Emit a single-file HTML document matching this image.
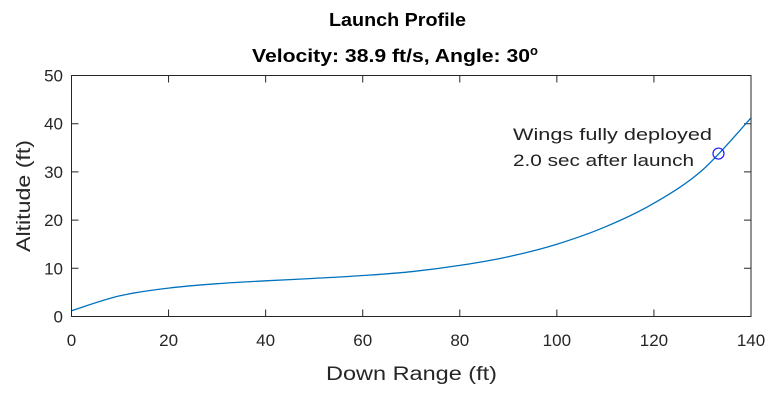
<!DOCTYPE html>
<html><head><meta charset="utf-8"><style>
body{margin:0;background:#fff;}
svg text{font-family:"Liberation Sans",Arial,sans-serif;}
</style></head><body>
<svg width="775" height="400">
<rect width="775" height="400" fill="#fff"/>
<text x="329" y="26" textLength="137" lengthAdjust="spacingAndGlyphs" font-size="18" font-weight="bold" fill="#000">Launch Profile</text>
<text x="252" y="62" font-size="18" font-weight="bold" fill="#000"><tspan textLength="278" lengthAdjust="spacingAndGlyphs">Velocity: 38.9 ft/s, Angle: 30</tspan><tspan dy="-7" font-size="13">o</tspan></text>
<g id="ticks"></g>
<path id="curve" fill="none" stroke="#0072BD" stroke-width="1.3"/>
<circle id="marker" r="5.5" fill="none" stroke="#1f1fff" stroke-width="1.2"/>
<text x="513" y="140" textLength="199" lengthAdjust="spacingAndGlyphs" font-size="17" fill="#222">Wings fully deployed</text>
<text x="513" y="166" textLength="181" lengthAdjust="spacingAndGlyphs" font-size="17" fill="#222">2.0 sec after launch</text>
<rect x="71.5" y="75.5" width="679.5" height="241" fill="none" stroke="#262626" stroke-width="1"/>
<text x="326" y="380" textLength="171" lengthAdjust="spacingAndGlyphs" font-size="19" fill="#262626">Down Range (ft)</text>
<text transform="translate(30,252) rotate(-90)" textLength="112" lengthAdjust="spacingAndGlyphs" font-size="19" fill="#262626">Altitude (ft)</text>
</svg>
<script>
const xs=[0,10,20,30,40,50,60,70,80,90,100,110,120,130,140];
const ys=[1.2,4.3,5.9,6.8,7.4,7.9,8.5,9.3,10.6,12.4,15,18.6,23.5,30.4,41.2];
const xTicks=[0,20,40,60,80,100,120,140];
const yTicks=[0,10,20,30,40,50];
const deploy=[133.3,33.8];
const X=v=>71.5+v*(751-71.5)/140;
const Y=v=>316.5-v*(316.5-75.5)/50;
const NS="http://www.w3.org/2000/svg";
const P=xs.map((x,i)=>[X(x),Y(ys[i])]);
let d='M'+P[0][0].toFixed(1)+','+P[0][1].toFixed(1);
for(let i=0;i<P.length-1;i++){
 const p0=P[Math.max(i-1,0)],p1=P[i],p2=P[i+1],p3=P[Math.min(i+2,P.length-1)];
 const c1=[p1[0]+(p2[0]-p0[0])/6,p1[1]+(p2[1]-p0[1])/6];
 const c2=[p2[0]-(p3[0]-p1[0])/6,p2[1]-(p3[1]-p1[1])/6];
 d+=`C${c1[0].toFixed(1)},${c1[1].toFixed(1)} ${c2[0].toFixed(1)},${c2[1].toFixed(1)} ${p2[0].toFixed(1)},${p2[1].toFixed(1)}`;
}
document.getElementById('curve').setAttribute('d',d);
const m=document.getElementById('marker');m.setAttribute('cx',X(deploy[0]));m.setAttribute('cy',Y(deploy[1]));
const g=document.getElementById('ticks');
xTicks.forEach(t=>{
 const l=document.createElementNS(NS,'path');
 l.setAttribute('d',`M${X(t)},316.5v-7M${X(t)},75.5v7`);l.setAttribute('stroke','#262626');
 
 
 g.appendChild(l);
 const s=document.createElementNS(NS,'text');
 s.setAttribute('x',X(t));s.setAttribute('y',346);s.setAttribute('text-anchor','middle');s.setAttribute('font-size','17');s.setAttribute('fill','#262626');
 s.textContent=t;
 
 
 g.appendChild(s);
});
yTicks.forEach(t=>{
 const l=document.createElementNS(NS,'path');
 l.setAttribute('d',`M71.5,${Y(t)}h7M751,${Y(t)}h-7`);l.setAttribute('stroke','#262626');
 
 
 g.appendChild(l);
 const s=document.createElementNS(NS,'text');
 s.setAttribute('x',63);s.setAttribute('y',Y(t)+6);s.setAttribute('text-anchor','end');s.setAttribute('font-size','17');s.setAttribute('fill','#262626');
 s.textContent=t;
 
 
 g.appendChild(s);
});
</script>
</body></html>
